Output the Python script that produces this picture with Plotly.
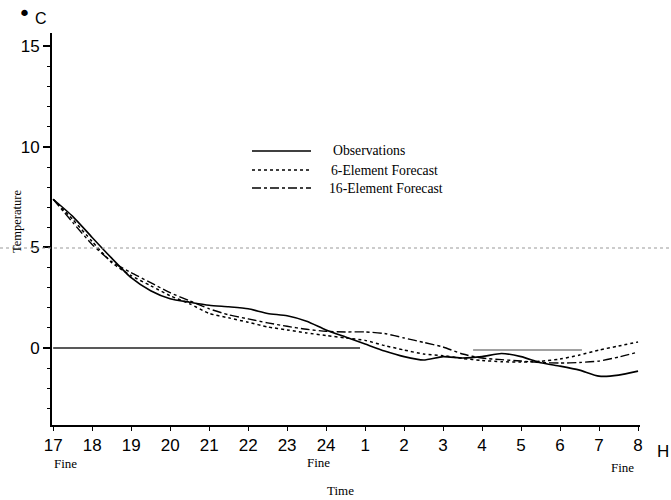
import plotly.graph_objects as go

# hours after 17h (0 = 17h, 15 = 8h next day)
hours = [0, 0.5, 1, 1.5, 2, 2.5, 3, 3.5, 4, 4.5, 5, 5.5, 6, 6.5, 7, 7.5,
         8, 8.5, 9, 9.5, 10, 10.5, 11, 11.5, 12, 12.5, 13, 13.5, 14, 14.5, 15]
observations = [7.4, 6.55, 5.5, 4.47, 3.5, 2.85, 2.45, 2.28, 2.13, 2.05, 1.95, 1.72, 1.6, 1.33, 0.9, 0.55,
                0.2, -0.15, -0.43, -0.6, -0.43, -0.5, -0.43, -0.27, -0.43, -0.73, -0.9, -1.1, -1.4, -1.35, -1.15]
forecast6 = [7.4, 6.4, 5.3, 4.25, 3.6, 3.1, 2.6, 2.2, 1.72, 1.5, 1.28, 1.05, 0.9, 0.75, 0.62, 0.5,
             0.38, 0.12, -0.1, -0.3, -0.38, -0.52, -0.62, -0.68, -0.7, -0.66, -0.55, -0.35, -0.1, 0.1, 0.3]
forecast16 = [7.4, 6.25, 5.15, 4.3, 3.75, 3.25, 2.75, 2.35, 1.95, 1.65, 1.45, 1.25, 1.08, 0.93, 0.83, 0.8,
              0.8, 0.72, 0.5, 0.28, 0.05, -0.3, -0.5, -0.58, -0.65, -0.72, -0.75, -0.72, -0.65, -0.45, -0.2]

tick_vals = list(range(16))
tick_text = ["17", "18", "19", "20", "21", "22", "23", "24", "1", "2", "3", "4", "5", "6", "7", "8"]
y_ticks = [0, 5, 10, 15]

# reference baseline segments (hours, temperature)
base1_x = [0, 7.87]
base1_y = [0, 0]
base2_x = [10.77, 13.56]
base2_y = [-0.1, -0.1]

fine_hours = [0.31, 6.8, 14.6]
fine_rows = [463, 462, 467]  # pixel rows of the "Fine" notes

series = [
    ("Observations", observations, "solid", 1.6),
    ("6-Element Forecast", forecast6, "dot", 1.5),
    ("16-Element Forecast", forecast16, "dashdot", 1.4),
]

fig = go.Figure()
fig.add_trace(go.Scatter(x=base1_x, y=base1_y, mode="lines",
                         line=dict(color="#222", width=1.3), showlegend=False, hoverinfo="skip"))
fig.add_trace(go.Scatter(x=base2_x, y=base2_y, mode="lines",
                         line=dict(color="#444", width=1.2), showlegend=False, hoverinfo="skip"))
for name, vals, dash, w in series:
    fig.add_trace(go.Scatter(x=hours, y=vals, mode="lines", name=name,
                             line=dict(color="black", width=w, dash=dash, shape="spline", smoothing=0.6),
                             showlegend=False))

L, R, T, B = 52, 31, 33, 75
W, H = 671, 500
pw, ph = W - L - R, H - T - B


def px(x):
    return (x - L) / pw


def py(y):
    return (H - B - y) / ph


SERIF = "Liberation Serif"
SANS = "Liberation Sans"

shapes = []
annotations = []
# scan artefact dotted line
shapes.append(dict(type="line", xref="paper", yref="paper", x0=px(0), x1=px(671), y0=py(248), y1=py(248),
                   line=dict(color="#999", width=1, dash="dot")))
# manual legend
leg_y = [151, 170, 188]
leg_x = [331, 329, 327]
for (name, _, dash, w), yy, xx in zip(series, leg_y, leg_x):
    shapes.append(dict(type="line", xref="paper", yref="paper", x0=px(252), x1=px(311), y0=py(yy), y1=py(yy),
                       line=dict(color="black", width=w, dash=dash)))
    annotations.append(dict(xref="paper", yref="paper", x=px(xx), y=py(yy), text=name, showarrow=False,
                            xanchor="left", yanchor="middle",
                            font=dict(family=SERIF, size=13.7, color="black")))

for h, r in zip(fine_hours, fine_rows):
    annotations.append(dict(xref="x", yref="paper", x=h, y=py(r), text="Fine", showarrow=False,
                            xanchor="center", yanchor="middle",
                            font=dict(family=SERIF, size=13, color="black")))
annotations.append(dict(xref="paper", yref="paper", x=px(340), y=py(491), text="Time", showarrow=False,
                        xanchor="center", yanchor="middle",
                        font=dict(family=SERIF, size=13, color="black")))
annotations.append(dict(xref="paper", yref="paper", x=px(17), y=py(222), text="Temperature", showarrow=False,
                        textangle=-90, xanchor="center", yanchor="middle",
                        font=dict(family=SERIF, size=12.5, color="black")))
annotations.append(dict(xref="paper", yref="paper", x=px(663), y=py(452), text="H", showarrow=False,
                        xanchor="center", yanchor="middle",
                        font=dict(family=SANS, size=17, color="black")))
annotations.append(dict(xref="paper", yref="paper", x=px(24), y=py(13), text="•", showarrow=False,
                        xanchor="center", yanchor="middle",
                        font=dict(family="DejaVu Sans", size=22, color="black")))
annotations.append(dict(xref="paper", yref="paper", x=px(33), y=py(18), text="C", showarrow=False,
                        xanchor="left", yanchor="middle",
                        font=dict(family=SANS, size=16, color="black")))

fig.update_layout(
    width=W, height=H,
    margin=dict(l=L, r=R, t=T, b=B),
    paper_bgcolor="white", plot_bgcolor="white",
    showlegend=False,
    shapes=shapes, annotations=annotations,
    xaxis=dict(range=[-0.03, 15.05], tickvals=tick_vals, ticktext=tick_text,
               showgrid=False, zeroline=False, showline=True, linecolor="black", linewidth=2,
               ticks="outside", ticklen=4, tickwidth=1, tickcolor="black",
               tickfont=dict(family=SANS, size=17, color="black")),
    yaxis=dict(range=[-3.83, 15.67], tickvals=y_ticks,
               showgrid=False, zeroline=False, showline=True, linecolor="black", linewidth=2,
               ticks="outside", ticklen=7, tickwidth=1.5, tickcolor="black",
               minor=dict(dtick=1, tick0=0, ticks="outside", ticklen=3, tickcolor="black", tickwidth=1),
               tickfont=dict(family=SANS, size=17, color="black")),
)

fig.write_html("out.html", config={"displayModeBar": False},
               post_script="document.body.style.margin='0';")
